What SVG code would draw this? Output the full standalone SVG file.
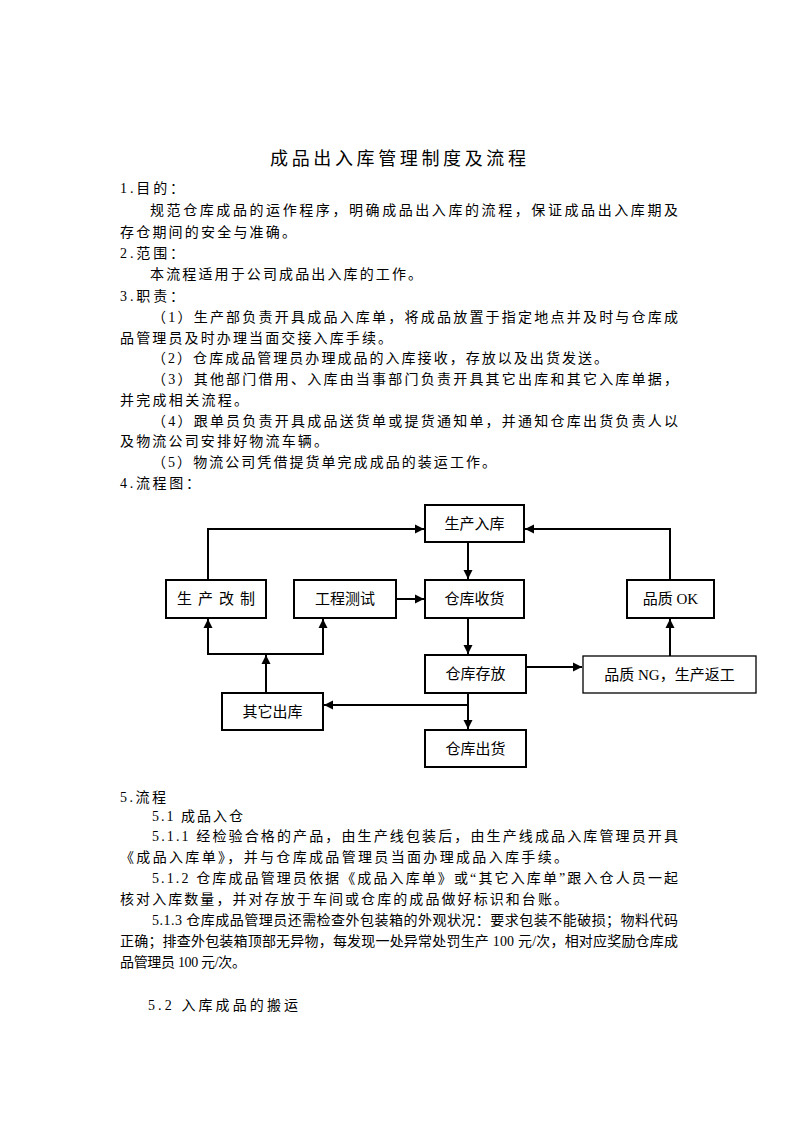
<svg xmlns="http://www.w3.org/2000/svg" width="793" height="1122" viewBox="0 0 793 1122">
<defs>
<marker id="ah" markerWidth="10" markerHeight="10" refX="9" refY="5" orient="auto" markerUnits="userSpaceOnUse">
<path d="M0,0.5 L9,5 L0,9.5 Z" fill="#000"/>
</marker>
<style>
.t{font-family:"Liberation Serif","Noto Sans CJK SC",serif;font-size:14px;fill:#000}
.ttl{font-family:"Noto Sans CJK SC",sans-serif;font-size:18px;fill:#000}
.bx{fill:#fff;stroke:#000;stroke-width:2}
.bxl{fill:#fff;stroke:#000;stroke-width:1.3}
.bl{font-family:"Liberation Serif","Noto Sans CJK SC",sans-serif;font-size:15px;fill:#000;text-anchor:middle}
.c{fill:none;stroke:#000;stroke-width:2}
.ca{fill:none;stroke:#000;stroke-width:2;marker-end:url(#ah)}
</style>
</defs>
<rect width="793" height="1122" fill="#fff"/>

<g id="text">
<text class="ttl" x="270" y="165" textLength="256" lengthAdjust="spacing">成品出入库管理制度及流程</text>
<text class="t" x="120" y="193" textLength="64" lengthAdjust="spacing">1.目的：</text>
<text class="t" x="150" y="215" textLength="528" lengthAdjust="spacing">规范仓库成品的运作程序，明确成品出入库的流程，保证成品出入库期及</text>
<text class="t" x="120" y="237" textLength="176" lengthAdjust="spacing">存仓期间的安全与准确。</text>
<text class="t" x="120" y="258" textLength="64" lengthAdjust="spacing">2.范围：</text>
<text class="t" x="150" y="279" textLength="272" lengthAdjust="spacing">本流程适用于公司成品出入库的工作。</text>
<text class="t" x="120" y="301" textLength="64" lengthAdjust="spacing">3.职责：</text>
<text class="t" x="152" y="322" textLength="526" lengthAdjust="spacing">（1）生产部负责开具成品入库单，将成品放置于指定地点并及时与仓库成</text>
<text class="t" x="120" y="343" textLength="272" lengthAdjust="spacing">品管理员及时办理当面交接入库手续。</text>
<text class="t" x="152" y="363" textLength="456" lengthAdjust="spacing">（2）仓库成品管理员办理成品的入库接收，存放以及出货发送。</text>
<text class="t" x="152" y="384" textLength="526" lengthAdjust="spacing">（3）其他部门借用、入库由当事部门负责开具其它出库和其它入库单据，</text>
<text class="t" x="120" y="405" textLength="128" lengthAdjust="spacing">并完成相关流程。</text>
<text class="t" x="152" y="426" textLength="526" lengthAdjust="spacing">（4）跟单员负责开具成品送货单或提货通知单，并通知仓库出货负责人以</text>
<text class="t" x="120" y="446" textLength="208" lengthAdjust="spacing">及物流公司安排好物流车辆。</text>
<text class="t" x="152" y="467" textLength="344" lengthAdjust="spacing">（5）物流公司凭借提货单完成成品的装运工作。</text>
<text class="t" x="120" y="488" textLength="80" lengthAdjust="spacing">4.流程图：</text>

<text class="t" x="120" y="802" textLength="46" lengthAdjust="spacing">5.流程</text>
<text class="t" x="152" y="821" textLength="91" lengthAdjust="spacing">5.1 成品入仓</text>
<text class="t" x="152" y="841" textLength="526" lengthAdjust="spacing">5.1.1 经检验合格的产品，由生产线包装后，由生产线成品入库管理员开具</text>
<text class="t" x="120" y="862" textLength="448" lengthAdjust="spacing">《成品入库单》，并与仓库成品管理员当面办理成品入库手续。</text>
<text class="t" x="152" y="883" textLength="526" lengthAdjust="spacing">5.1.2 仓库成品管理员依据《成品入库单》或“其它入库单”跟入仓人员一起</text>
<text class="t" x="120" y="904" textLength="448" lengthAdjust="spacing">核对入库数量，并对存放于车间或仓库的成品做好标识和台账。</text>
<text class="t" x="152" y="925" textLength="526" lengthAdjust="spacing">5.1.3 仓库成品管理员还需检查外包装箱的外观状况：要求包装不能破损；物料代码</text>
<text class="t" x="120" y="946" textLength="558" lengthAdjust="spacing">正确；排查外包装箱顶部无异物，每发现一处异常处罚生产 100 元/次，相对应奖励仓库成</text>
<text class="t" x="120" y="967" textLength="126" lengthAdjust="spacing">品管理员 100 元/次。</text>
<text class="t" x="148" y="1010" textLength="150" lengthAdjust="spacing">5.2 入库成品的搬运</text>
</g>

<g id="connectors">
<polyline class="ca" points="208,580 208,529 424,529"/>
<polyline class="ca" points="670,579 670,529 525,529"/>
<line class="ca" x1="468" y1="542" x2="468" y2="579"/>
<line class="ca" x1="396" y1="599" x2="424" y2="599"/>
<line class="ca" x1="468" y1="618" x2="468" y2="654"/>
<line class="ca" x1="526" y1="667" x2="582" y2="667"/>
<line class="ca" x1="670" y1="656" x2="670" y2="619"/>
<line class="ca" x1="468" y1="693" x2="468" y2="729"/>
<line class="ca" x1="468" y1="705" x2="324" y2="705"/>
<line class="ca" x1="266" y1="693" x2="266" y2="655"/>
<line class="c" x1="207" y1="654" x2="324" y2="654"/>
<line class="ca" x1="208" y1="654" x2="208" y2="619"/>
<line class="ca" x1="323" y1="654" x2="323" y2="619"/>
</g>

<g id="n-scrk"><rect class="bx" x="425" y="505" width="99" height="37"/><text class="bl" x="474.5" y="529">生产入库</text></g>
<g id="n-scgz"><rect class="bx" x="166" y="580" width="100" height="38"/><text class="bl" x="216" y="604" textLength="78" lengthAdjust="spacing">生产改制</text></g>
<g id="n-gccs"><rect class="bx" x="294" y="580" width="102" height="38"/><text class="bl" x="345" y="604">工程测试</text></g>
<g id="n-cksh"><rect class="bx" x="425" y="580" width="99" height="38"/><text class="bl" x="474.5" y="604">仓库收货</text></g>
<g id="n-pzok"><rect class="bx" x="627" y="580" width="87" height="38"/><text class="bl" x="670.5" y="604">品质 OK</text></g>
<g id="n-ckcf"><rect class="bx" x="425" y="655" width="101" height="38"/><text class="bl" x="475.5" y="679">仓库存放</text></g>
<g id="n-pzng"><rect class="bxl" x="583" y="656" width="173" height="37"/><text class="bl" x="669.5" y="680">品质 NG，生产返工</text></g>
<g id="n-qtck"><rect class="bx" x="222" y="693" width="101" height="37"/><text class="bl" x="272.5" y="717">其它出库</text></g>
<g id="n-ckch"><rect class="bx" x="425" y="730" width="101" height="37"/><text class="bl" x="475.5" y="754">仓库出货</text></g>
</svg>
